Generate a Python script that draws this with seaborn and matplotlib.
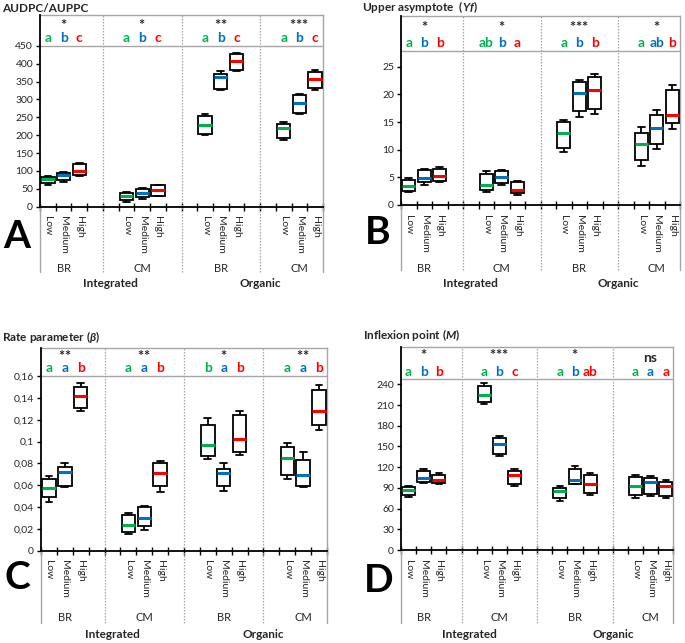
import numpy as np
import pandas as pd
import matplotlib
matplotlib.use("Agg")
import matplotlib.pyplot as plt
from matplotlib.ticker import FuncFormatter
import seaborn as sns

sns.set_style("white")
plt.rcParams["font.family"] = ["Lato", "DejaVu Sans"]
plt.rcParams["mathtext.fontset"] = "custom"
plt.rcParams["mathtext.it"] = "Lato:italic:bold"
plt.rcParams["mathtext.rm"] = "Lato:bold"
plt.rcParams["mathtext.bf"] = "Lato:bold"

# ---------------- data ----------------
levels = ["Low", "Medium", "High"]
groups = ["BR", "CM", "BR", "CM"]
systems = ["Integrated", "Organic"]
level_colors = ["#00B050", "#0070C0", "#FF0000"]

# five-number summaries [min, q1, median, q3, max]; rows = groups, cols = levels
audpc_stats = [
    [[60, 65, 77, 84, 86], [70, 74, 89, 94, 96], [87, 90, 100, 120, 123]],
    [[14, 18, 29, 38, 41], [22, 26, 38, 50, 53], [30, 31, 46, 60, 62]],
    [[200, 203, 229, 254, 258], [327, 330, 362, 372, 379], [379, 382, 406, 427, 431]],
    [[186, 192, 221, 232, 237], [259, 261, 289, 311, 314], [327, 333, 357, 377, 383]],
]
audpc_letters = [["a", "b", "c"], ["a", "b", "c"], ["a", "b", "c"], ["a", "b", "c"]]
audpc_sig = ["*", "*", "**", "***"]

yf_stats = [
    [[2.3, 2.6, 3.5, 4.5, 4.9], [3.7, 4.1, 4.9, 6.3, 6.6], [4.1, 4.4, 5.3, 6.6, 6.9]],
    [[2.3, 2.7, 3.6, 5.7, 6.1], [3.7, 4.0, 5.1, 6.1, 6.4], [1.8, 2.2, 2.8, 4.1, 4.3]],
    [[9.6, 10.3, 13.1, 15.0, 15.3], [16.0, 17.1, 20.3, 22.2, 22.6], [16.4, 17.4, 20.9, 23.1, 23.7]],
    [[7.1, 8.1, 11.0, 13.0, 14.1], [10.2, 11.1, 14.0, 16.3, 17.2], [13.7, 14.8, 16.3, 20.8, 21.7]],
]
yf_letters = [["a", "b", "b"], ["ab", "b", "a"], ["a", "b", "b"], ["a", "ab", "b"]]
yf_sig = ["*", "*", "***", "*"]

beta_stats = [
    [[0.045, 0.049, 0.057, 0.066, 0.068], [0.058, 0.059, 0.072, 0.077, 0.080], [0.128, 0.131, 0.142, 0.150, 0.154]],
    [[0.015, 0.017, 0.024, 0.033, 0.035], [0.019, 0.023, 0.030, 0.040, 0.041], [0.054, 0.059, 0.071, 0.080, 0.082]],
    [[0.084, 0.087, 0.097, 0.115, 0.122], [0.055, 0.059, 0.071, 0.075, 0.080], [0.088, 0.090, 0.102, 0.124, 0.128]],
    [[0.066, 0.069, 0.085, 0.095, 0.099], [0.058, 0.059, 0.069, 0.083, 0.090], [0.111, 0.115, 0.128, 0.147, 0.152]],
]
beta_letters = [["a", "a", "b"], ["a", "a", "b"], ["b", "a", "b"], ["a", "a", "b"]]
beta_sig = ["**", "**", "*", "**"]

m_stats = [
    [[77, 80, 87, 91, 92], [97, 98, 104, 114, 118], [95, 97, 102, 109, 112]],
    [[211, 214, 224, 237, 242], [136, 139, 154, 162, 165], [93, 95, 108, 115, 118]],
    [[71, 75, 86, 90, 92], [95, 96, 102, 118, 121], [79, 82, 96, 108, 112]],
    [[76, 80, 93, 106, 108], [78, 81, 98, 104, 107], [75, 78, 92, 98, 102]],
]
m_letters = [["a", "b", "b"], ["a", "b", "c"], ["a", "b", "ab"], ["a", "a", "a"]]
m_sig = ["*", "***", "*", "ns"]

# ---------------- layout helpers ----------------
N_SLOTS = 18
order = []
for k in range(N_SLOTS):
    gi, li = divmod(k, 5)
    if li < 3:
        order.append(f"{systems[gi // 2]}-{groups[gi]}-{levels[li]}")
    else:
        order.append(" " * (k + 1))

W, H = 685, 643
fig = plt.figure(figsize=(W / 100, H / 100), dpi=100)

GRAY = "#A6A6A6"
TXT = "#262626"


def fmt_comma(v, pos):
    s = f"{v:.2f}".rstrip("0").rstrip(".")
    return s.replace(".", ",")


def star_text(sig):
    # each asterisk in its own group so mathtext adds no operator spacing;
    # mathtext gives a tight bounding box around the glyphs
    return "$" + "".join("{*}" for _ in sig) + "$"


panels = [
    dict(stats=audpc_stats, letters=audpc_letters, sig=audpc_sig, box=(40, 323, 15, 206.7),
         ylim=536, sep=450, ticks=np.arange(0, 451, 50), fmt=None,
         title="AUDPC/AUPPC", tpos=(2, 8.3), tag="A", tagpos=(16.5, 236.5),
         ylet=0.880, ystar=0.953, ext=-0.341, ygrp=-0.32, ysys=-0.403),
    dict(stats=yf_stats, letters=yf_letters, sig=yf_sig, box=(401, 680, 16, 205),
         ylim=34.2, sep=27.9, ticks=np.arange(0, 26, 5), fmt=None,
         title="Upper asymptote  ($Yf$)", tpos=(362, 7.3), tag="B", tagpos=(378, 232.5),
         ylet=0.857, ystar=0.947, ext=-0.344, ygrp=-0.335, ysys=-0.414),
    dict(stats=beta_stats, letters=beta_letters, sig=beta_sig, box=(41, 327, 347.7, 550.7),
         ylim=0.186, sep=0.16, ticks=np.arange(0, 0.161, 0.02), fmt=fmt_comma,
         title=r"Rate parameter ($\beta$)", tpos=(2, 336.7), tag="C", tagpos=(17.5, 577.5),
         ylet=0.901, ystar=0.964, ext=-0.356, ygrp=-0.327, ysys=-0.415),
    dict(stats=m_stats, letters=m_letters, sig=m_sig, box=(401, 673.3, 346.7, 550),
         ylim=294.5, sep=247.7, ticks=np.arange(0, 241, 30), fmt=None,
         title="Inflexion point ($M$)", tpos=(363, 335), tag="D", tagpos=(379, 580),
         ylet=0.877, ystar=0.964, ext=-0.359, ygrp=-0.334, ysys=-0.418),
]

for p in panels:
    l, r, t, b = p["box"]
    ax = fig.add_axes([l / W, 1 - b / H, (r - l) / W, (b - t) / H])

    rows = []
    for gi in range(4):
        for li in range(3):
            for v in p["stats"][gi][li]:
                rows.append(dict(slot=order[gi * 5 + li], level=levels[li], value=v))
    df = pd.DataFrame(rows)

    for li, lvl in enumerate(levels):
        sns.boxplot(data=df[df["level"] == lvl], x="slot", y="value", order=order,
                    width=0.85, whis=(0, 100), color="white", linecolor="black",
                    linewidth=1.3, showfliers=False,
                    medianprops=dict(color=level_colors[li], linewidth=2.2),
                    ax=ax, zorder=3)

    ax.set_xlim(-0.5, N_SLOTS - 0.5)
    ax.set_ylim(0, p["ylim"])
    ax.set_xlabel("")
    ax.set_ylabel("")

    # y axis
    ax.set_yticks(p["ticks"])
    if p["fmt"] is not None:
        ax.yaxis.set_major_formatter(FuncFormatter(p["fmt"]))
    ax.tick_params(axis="y", direction="out", length=3, width=1, color="black",
                   labelsize=7.5, labelcolor=TXT, pad=2, left=True)

    # x axis: boundary ticks and level labels
    ax.set_xticks(np.arange(-0.5, N_SLOTS, 1.0))
    ax.set_xticklabels([])
    centers = [gi * 5 + li for gi in range(4) for li in range(3)]
    ax.set_xticks(centers, minor=True)
    ax.set_xticklabels([levels[li] for gi in range(4) for li in range(3)], minor=True,
                       rotation=-90, va="top", ha="center")
    ax.tick_params(axis="x", which="major", direction="inout", length=6, width=1,
                   color="black", bottom=True)
    ax.tick_params(axis="x", which="minor", length=0, pad=7, labelsize=7.5,
                   labelcolor=TXT)

    for side in ["top", "right"]:
        ax.spines[side].set_color(GRAY)
        ax.spines[side].set_linewidth(1)
    for side in ["left", "bottom"]:
        ax.spines[side].set_color("black")
        ax.spines[side].set_linewidth(1.3)
        ax.spines[side].set_zorder(4)

    ax.axhline(p["sep"], color=GRAY, lw=1, zorder=2)

    xt = ax.get_xaxis_transform()
    for d in [3.5, 8.5, 13.5]:
        ax.plot([d, d], [p["ext"], 1], transform=xt, color=GRAY, lw=0.9,
                ls=(0, (1.2, 1.2)), clip_on=False, zorder=1)
    for d in [-0.5, N_SLOTS - 0.5]:
        ax.plot([d, d], [p["ext"], 0], transform=xt, color=GRAY, lw=1,
                clip_on=False, zorder=1)

    for gi in range(4):
        for li in range(3):
            ax.text(gi * 5 + li, p["ylet"], p["letters"][gi][li], transform=xt,
                    color=level_colors[li], ha="center", va="center",
                    fontsize=10, fontweight="bold")
        sig = p["sig"][gi]
        if sig == "ns":
            ax.text(gi * 5 + 1, 0.946, sig, transform=xt, color=TXT,
                    ha="center", va="center", fontsize=10, fontweight="bold")
        else:
            ax.text(gi * 5 + 1, p["ystar"], star_text(sig), transform=xt, color=TXT,
                    ha="center", va="center", fontsize=10.5)
        ax.text(gi * 5 + 1, p["ygrp"], groups[gi], transform=xt, color=TXT,
                ha="center", va="center", fontsize=8)
    ax.text(4.0, p["ysys"], systems[0], transform=xt, color=TXT, ha="center",
            va="center", fontsize=8.5, fontweight="bold")
    ax.text(13.5, p["ysys"], systems[1], transform=xt, color=TXT, ha="center",
            va="center", fontsize=8.5, fontweight="bold")

    fig.text(p["tpos"][0] / W, 1 - p["tpos"][1] / H, p["title"], ha="left",
             va="center", fontsize=8.5, fontweight="bold", color=TXT)
    fig.text(p["tagpos"][0] / W, 1 - p["tagpos"][1] / H, p["tag"], ha="center",
             va="center", fontsize=28, fontweight="bold", color="black")

fig.savefig("out.png", dpi=100)
